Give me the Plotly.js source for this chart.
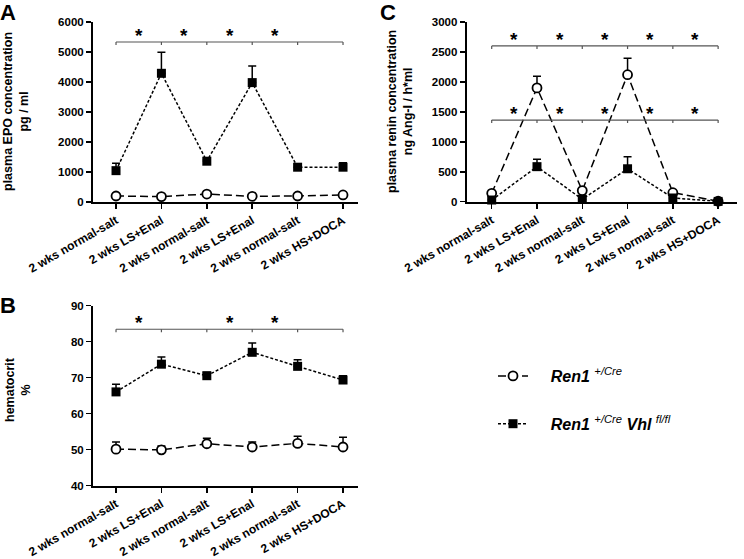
<!DOCTYPE html>
<html><head><meta charset="utf-8">
<script src="https://cdn.plot.ly/plotly-3.0.1.min.js"></script>
<style>html,body{margin:0;padding:0;background:#fff}#chart{width:744px;height:559px}</style>
</head><body><div id="chart"></div>
<script>
// ---- data ----
const categories = ['2 wks normal-salt','2 wks LS+Enal','2 wks normal-salt','2 wks LS+Enal','2 wks normal-salt','2 wks HS+DOCA'];
const catIndex = [0,1,2,3,4,5];

const epoRen1 = [200,180,265,190,200,235];
const epoRen1Err = [0,0,0,0,0,0];
const epoVhl = [1045,4290,1360,3980,1160,1160];
const epoVhlErr = [250,700,40,550,0,150];

const hctRen1 = [50.1,49.9,51.6,50.7,51.7,50.7];
const hctRen1Err = [2.0,1.1,1.5,1.4,2.0,2.7];
const hctVhl = [66.0,73.7,70.5,77.0,73.1,69.3];
const hctVhlErr = [2.1,2.0,0.9,2.6,1.8,1.2];

const reninRen1 = [140,1900,185,2120,150,8];
const reninRen1Err = [0,195,0,275,0,0];
const reninVhl = [28,585,40,550,62,5];
const reninVhlErr = [0,125,0,200,0,0];

// significance between neighbouring groups (1 = star)
const epoStars = [1,1,1,1,0];
const hctStars = [1,0,1,1,0];
const reninStarsTop = [1,1,1,1,1];
const reninStarsMid = [1,1,1,1,1];
const epoBracket = 5333;
const hctBracket = 83.4;
const reninBrackets = [2600,1362];

const ren1Name = '&nbsp;&nbsp;&nbsp;&nbsp;<b><i>Ren1</i></b> <sup><i>+/Cre</i></sup>';
const vhlName = '&nbsp;&nbsp;&nbsp;&nbsp;<b><i>Ren1</i></b> <sup><i>+/Cre</i></sup> <b><i>Vhl</i></b> <sup><i>fl/fl</i></sup>';

// ---- traces ----
function ren1Trace(y, err, xa, ya, show){
  return {x: catIndex, y: y, xaxis: xa, yaxis: ya, type:'scatter', mode:'lines+markers',
    name: ren1Name, showlegend: show, legendgroup:'a', cliponaxis:false,
    line:{color:'#000', width:1.5, dash:'8px,4px'},
    marker:{symbol:'circle', size:9, color:'#fff', line:{color:'#000', width:1.8}},
    error_y:{type:'data', symmetric:false, array: err, arrayminus: err.map(()=>0), color:'#000', thickness:1.5, width:4}};
}
function vhlTrace(y, err, xa, ya, show){
  return {x: catIndex, y: y, xaxis: xa, yaxis: ya, type:'scatter', mode:'lines+markers',
    name: vhlName, showlegend: show, legendgroup:'b', cliponaxis:false,
    line:{color:'#000', width:1.5, dash:'3px,2px'},
    marker:{symbol:'square', size:9, color:'#000', line:{color:'#000', width:0}},
    error_y:{type:'data', symmetric:false, array: err, arrayminus: err.map(()=>0), color:'#000', thickness:1.5, width:4}};
}
const data = [
  vhlTrace(epoVhl, epoVhlErr, 'x', 'y', false),
  ren1Trace(epoRen1, epoRen1Err, 'x', 'y', false),
  vhlTrace(hctVhl, hctVhlErr, 'x2', 'y2', false),
  ren1Trace(hctRen1, hctRen1Err, 'x2', 'y2', false),
  ren1Trace(reninRen1, reninRen1Err, 'x3', 'y3', true),
  vhlTrace(reninVhl, reninVhlErr, 'x3', 'y3', true)
];

// ---- brackets & stars ----
const shapes = [];
const annotations = [];
function bracket(xa, ya, level, tickLen, stars){
  shapes.push({type:'line', xref:xa, yref:ya, x0:catIndex[0], x1:catIndex[catIndex.length-1], y0:level, y1:level, line:{color:'#555', width:1.2}});
  catIndex.forEach(c => shapes.push({type:'line', xref:xa, yref:ya, x0:c, x1:c, y0:level, y1:level-tickLen, line:{color:'#555', width:1.2}}));
  stars.forEach((s,i) => { if(s) annotations.push({xref:xa, yref:ya, x:(catIndex[i]+catIndex[i+1])/2, y:level, yanchor:'bottom', yshift:-6, text:'<b>*</b>', showarrow:false, font:{family:'Liberation Sans', size:19, color:'#000'}}); });
}
bracket('x','y', epoBracket, 100, epoStars);
bracket('x2','y2', hctBracket, 0.8, hctStars);
bracket('x3','y3', reninBrackets[0], 50, reninStarsTop);
bracket('x3','y3', reninBrackets[1], 50, reninStarsMid);

const titleFont = {family:'Liberation Sans', size:12.5, color:'#000', weight:'bold'};
function axTitle(text, x, y){
  annotations.push({xref:'paper', yref:'paper', x:x, y:y, xanchor:'center', yanchor:'middle', textangle:-90, text:text, showarrow:false, font:titleFont});
}
axTitle('plasma EPO concentration<br>pg / ml', 16/744, 1-112/559);
axTitle('hematocrit<br>%', 18/744, 1-390/559);
axTitle('plasma renin concentration<br>ng Ang-I / h*ml', 400/744, 1-112/559);

function panelLetter(t, x, y){
  annotations.push({xref:'paper', yref:'paper', x:x, y:y, xanchor:'left', yanchor:'top', text:'<b>'+t+'</b>', showarrow:false, font:{family:'Liberation Sans', size:22, color:'#000'}});
}
panelLetter('A', -2/744, 1+2/559);
panelLetter('B', -2/744, 1-291/559);
panelLetter('C', 378/744, 1+2/559);

const tickFont = {family:'Liberation Sans', size:11.5, color:'#000', weight:'bold'};
const xTickFont = {family:'Liberation Sans', size:12, color:'#000', weight:'bold'};
function xAxis(domain, range, anchor){
  return {domain: domain, range: range, anchor: anchor, tickmode:'array', tickvals: catIndex, ticktext: categories,
    tickangle:-30, ticks:'outside', ticklen:5, tickwidth:1.5, tickcolor:'#000', showline:true, linecolor:'#000', linewidth:2,
    showgrid:false, zeroline:false, tickfont:xTickFont, fixedrange:true};
}
function yAxis(domain, range, dtick, anchor){
  return {domain: domain, range: range, dtick: dtick, anchor: anchor, ticks:'outside', ticklen:5, tickwidth:1.5, tickcolor:'#000',
    showline:true, linecolor:'#000', linewidth:2, showgrid:false, zeroline:false, tickfont:tickFont, fixedrange:true};
}

const layout = {
  width:744, height:559, margin:{l:0,r:0,t:0,b:0}, paper_bgcolor:'#fff', plot_bgcolor:'#fff',
  font:{family:'Liberation Sans', color:'#000'},
  xaxis: xAxis([93/744, 358/744], [-0.507, 5.33], 'y'),
  yaxis: yAxis([1-202/559, 1-22/559], [0, 6000], 1000, 'x'),
  xaxis2: xAxis([93/744, 358/744], [-0.507, 5.33], 'y2'),
  yaxis2: yAxis([1-485.5/559, 1-305.5/559], [40, 90], 10, 'x2'),
  xaxis3: xAxis([466.7/744, 736.7/744], [-0.552, 5.41], 'y3'),
  yaxis3: yAxis([1-201.7/559, 1-22/559], [0, 3000], 500, 'x3'),
  showlegend:true,
  legend:{x:493/744, y:1-359/559, xanchor:'left', yanchor:'top', bgcolor:'rgba(0,0,0,0)', tracegroupgap:24, traceorder:'grouped',
    itemwidth:30, font:{family:'Liberation Sans', size:16, color:'#000'}},
  shapes: shapes, annotations: annotations
};
Plotly.newPlot('chart', data, layout, {staticPlot:true, displayModeBar:false});
</script></body></html>
